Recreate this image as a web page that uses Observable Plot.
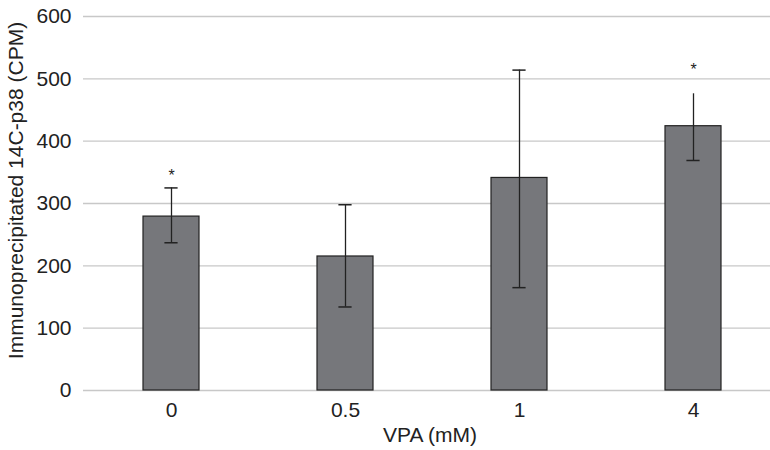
<!DOCTYPE html>
<html>
<head>
<meta charset="utf-8">
<script src="https://cdn.jsdelivr.net/npm/d3@7"></script>
<script src="https://cdn.jsdelivr.net/npm/@observablehq/plot@0.6"></script>
<style>
  html, body { margin: 0; padding: 0; background: #fff; overflow: hidden; }
  #chart svg { display: block; }
</style>
</head>
<body>
<div id="chart"></div>
<script>
const categories = ["0", "0.5", "1", "4"];
const means = [279, 215, 341, 424];
const errLow = [237, 134, 165, 369];
const errHigh = [325, 298, 514, 476];
const topCap = [true, true, true, false];
const starY = [345, null, null, 515];
const yTicks = [0, 100, 200, 300, 400, 500, 600];
const yLabel = "Immunoprecipitated 14C-p38 (CPM)";
const xLabel = "VPA (mM)";

const rows = categories.map((c, i) => ({
  cat: c, mean: means[i], lo: errLow[i], hi: errHigh[i], cap: topCap[i], star: starY[i]
}));

const font = "'Liberation Sans', Arial, Helvetica, sans-serif";
const ink = "#222222";

const chart = Plot.plot({
  width: 770,
  height: 450,
  marginLeft: 83,
  marginRight: 0,
  marginTop: 16,
  marginBottom: 60,
  style: { fontFamily: font, color: ink, background: "#fff" },
  x: { type: "band", domain: categories, range: [83.5, 780.5], paddingInner: 0.681, paddingOuter: 0.34, label: null },
  y: { domain: [0, 600], label: null },
  marks: [
    Plot.ruleY(yTicks, { stroke: "#c8c8c8", strokeWidth: 1.3 }),
    Plot.axisY({ ticks: yTicks, tickSize: 0, tickPadding: 12, fontSize: 21, label: null }),
    Plot.axisX({ tickSize: 0, tickPadding: 12, fontSize: 21, label: null }),
    Plot.barY(rows, { x: "cat", y: "mean", fill: "#76777b", stroke: ink, strokeWidth: 1.2 }),
    Plot.ruleX(rows, { x: "cat", y1: "lo", y2: "hi", stroke: ink, strokeWidth: 1.3 }),
    Plot.tickY(rows, { x: "cat", y: "lo", stroke: ink, strokeWidth: 1.5, insetLeft: 21.4, insetRight: 21.4 }),
    Plot.tickY(rows.filter(d => d.cap), { x: "cat", y: "hi", stroke: ink, strokeWidth: 1.5, insetLeft: 21.4, insetRight: 21.4 }),
    Plot.text(rows.filter(d => d.star != null), { x: "cat", y: "star", text: () => "*", fontSize: 16, fill: ink }),
    Plot.text([yLabel], { frameAnchor: "left", textAnchor: "middle", rotate: -90, dx: -67, dy: -13, fontSize: 21, fill: ink }),
    Plot.text([xLabel], { frameAnchor: "bottom", textAnchor: "middle", dx: 3, dy: 51, fontSize: 21, fill: ink })
  ]
});
document.getElementById("chart").appendChild(chart);
</script>
</body>
</html>
